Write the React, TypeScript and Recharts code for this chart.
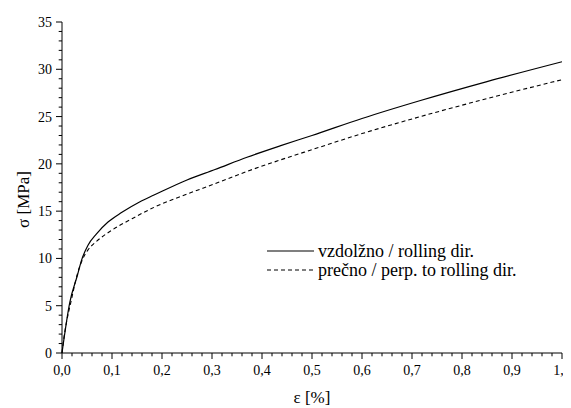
import { LineChart, Line, XAxis, YAxis } from "recharts";

// ε [%] and σ [MPa]
const strainRolling = [0, 0.0154, 0.031, 0.039, 0.052, 0.069, 0.092, 0.119, 0.156, 0.184, 0.25, 0.306, 0.37, 0.436, 0.5, 0.6, 0.717, 0.85, 1.0];
const stressRolling = [0, 5.3, 8.25, 9.8, 11.4, 12.6, 13.85, 14.85, 16.0, 16.7, 18.3, 19.4, 20.7, 21.9, 23.0, 24.8, 26.7, 28.7, 30.8];

const strainPerp = [0, 0.003, 0.0088, 0.0174, 0.031, 0.042, 0.052, 0.069, 0.1, 0.14, 0.184, 0.25, 0.306, 0.37, 0.436, 0.5, 0.6, 0.717, 0.85, 1.0];
const stressPerp = [0, 1.3, 3.2, 5.3, 8.4, 10.0, 10.9, 11.8, 13.0, 14.2, 15.4, 16.8, 17.9, 19.2, 20.4, 21.5, 23.2, 25.0, 26.9, 28.9];

const seriesNames = ["vzdolžno / rolling dir.", "prečno / perp. to rolling dir."];

const xMajorTicks = [0, 0.1, 0.2, 0.3, 0.4, 0.5, 0.6, 0.7, 0.8, 0.9, 1.0];
const xTickLabels = ["0,0", "0,1", "0,2", "0,3", "0,4", "0,5", "0,6", "0,7", "0,8", "0,9", "1,0"];
const yMajorTicks = [0, 5, 10, 15, 20, 25, 30, 35];

const xAllTicks = Array.from({ length: 51 }, (_, i) => Math.round(i * 2) / 100);
const yAllTicks = Array.from({ length: 36 }, (_, i) => i);

const rolling = strainRolling.map((e, i) => ({ e, s: stressRolling[i] }));
const perp = strainPerp.map((e, i) => ({ e, s: stressPerp[i] }));

const FONT = '"Times New Roman", Times, "Liberation Serif", "DejaVu Serif", serif';
const TICK_SIZE = 6;
const X_MARGIN = 6;
const Y_MARGIN = 4;

function XTick(props: any) {
  const { x, y, payload } = props;
  const v = payload.value;
  const idx = xMajorTicks.findIndex((t) => Math.abs(t - v) < 1e-6);
  const axisY = y - TICK_SIZE - X_MARGIN;
  const len = idx >= 0 ? 6 : 3.3;
  return (
    <g>
      <line x1={x} x2={x} y1={axisY} y2={axisY + len} stroke="#000" strokeWidth={1} />
      {idx >= 0 && (
        <text x={x} y={y} dy="0.71em" textAnchor="middle" style={{ fontFamily: FONT, fontSize: 14 }} fill="#000">
          {xTickLabels[idx]}
        </text>
      )}
    </g>
  );
}

function YTick(props: any) {
  const { x, y, payload } = props;
  const v = payload.value;
  const major = yMajorTicks.includes(v);
  const axisX = x + TICK_SIZE + Y_MARGIN;
  const len = major ? 6 : 3.3;
  return (
    <g>
      <line x1={axisX - len} x2={axisX} y1={y} y2={y} stroke="#000" strokeWidth={1} />
      {major && (
        <text x={x} y={y} dy="0.355em" textAnchor="end" style={{ fontFamily: FONT, fontSize: 14 }} fill="#000">
          {v}
        </text>
      )}
    </g>
  );
}

export default function App() {
  return (
    <div style={{ position: "relative", width: 571, height: 408, margin: "-8px 0 0 -8px", fontFamily: FONT }}>
      <LineChart width={571} height={408} margin={{ top: 22, right: 9, left: 0, bottom: 0 }}>
        <XAxis
          dataKey="e"
          type="number"
          domain={[0, 1]}
          ticks={xAllTicks}
          interval={0}
          tickLine={false}
          tickSize={TICK_SIZE}
          tickMargin={X_MARGIN}
          tick={(p: any) => <XTick {...p} />}
          axisLine={{ stroke: "#000", strokeWidth: 1 }}
          height={55}
          label={{
            content: (p: any) => {
              const vb = p.viewBox;
              return (
                <text x={vb.x + vb.width / 2} y={403} textAnchor="middle" style={{ fontFamily: FONT, fontSize: 17 }} fill="#000">
                  ε [%]
                </text>
              );
            },
          }}
        />
        <YAxis
          dataKey="s"
          type="number"
          domain={[0, 35]}
          ticks={yAllTicks}
          interval={0}
          tickLine={false}
          tickSize={TICK_SIZE}
          tickMargin={Y_MARGIN}
          tick={(p: any) => <YTick {...p} />}
          axisLine={{ stroke: "#000", strokeWidth: 1 }}
          width={62}
          label={{
            content: () => (
              <text
                x={23.5}
                y={199.5}
                dy="0.35em"
                transform="rotate(-90 23.5 199.5)"
                textAnchor="middle"
                style={{ fontFamily: FONT, fontSize: 17 }}
                fill="#000"
              >
                σ [MPa]
              </text>
            ),
          }}
        />
        <Line data={rolling} dataKey="s" type="monotone" stroke="#000" strokeWidth={1.2} dot={false} isAnimationActive={false} />
        <Line data={perp} dataKey="s" type="monotone" stroke="#000" strokeWidth={1.1} strokeDasharray="4 3" dot={false} isAnimationActive={false} />
      </LineChart>
      <div style={{ position: "absolute", left: 266.5, top: 241.5, fontFamily: FONT, fontSize: 18, color: "#000" }}>
        {seriesNames.map((name, i) => (
          <div key={name} style={{ display: "flex", alignItems: "center", height: 19, whiteSpace: "nowrap" }}>
            <svg width={47} height={4} style={{ display: "block" }}>
              <line x1={0} x2={47} y1={2} y2={2} stroke="#000" strokeWidth={1.2} strokeDasharray={i === 1 ? "4 3" : undefined} />
            </svg>
            <span style={{ marginLeft: 4.5, lineHeight: "19px" }}>{name}</span>
          </div>
        ))}
      </div>
    </div>
  );
}
